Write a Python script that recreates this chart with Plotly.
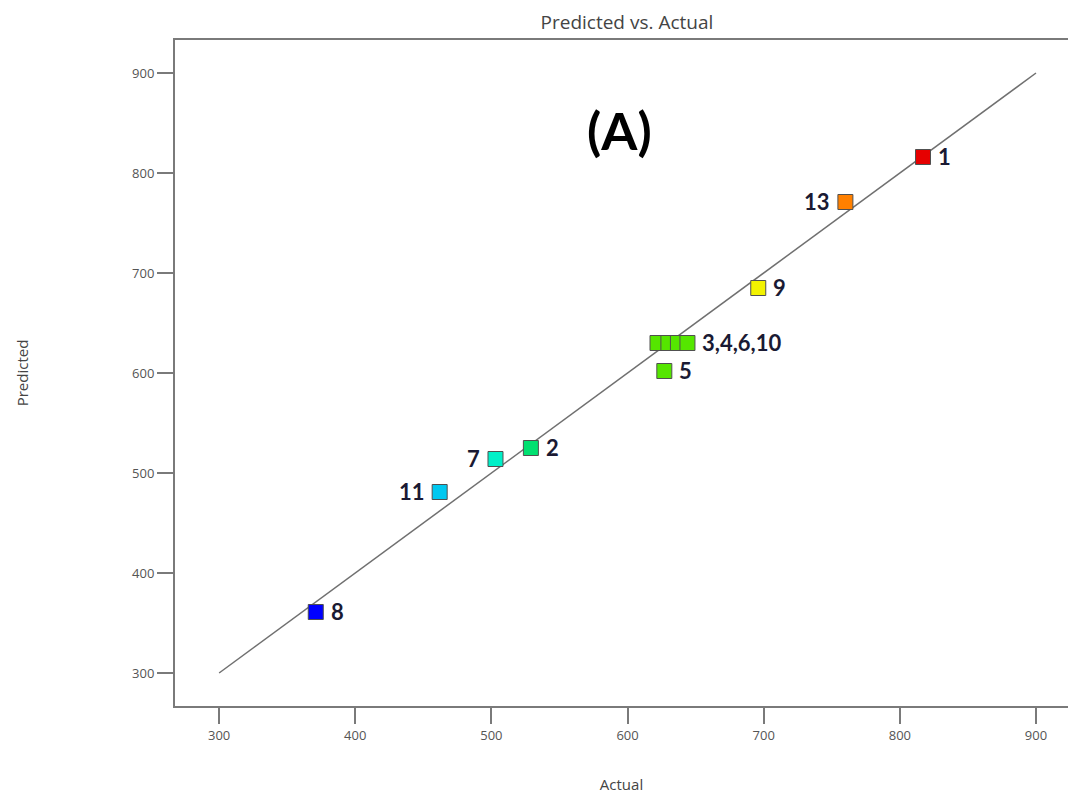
import plotly.graph_objects as go

# Data
run_labels = ["1", "13", "9", "3", "4", "6", "10", "5", "2", "7", "11", "8"]
actual = [817, 760, 696, 622, 630, 637, 644, 627, 529, 503, 462, 371]
predicted = [816, 771, 685, 630, 630, 630, 630, 602, 525, 514, 481, 361]
colors = ["#e60000", "#ff8000", "#f2f200", "#55e600", "#55e600", "#55e600", "#55e600",
          "#55e600", "#00e070", "#00f0c8", "#00c8f0", "#0000ff"]

# Text annotations (label, anchor point index, side)
ann_text = ["1", "13", "9", "3,4,6,10", "5", "2", "7", "11", "8"]
ann_idx = [0, 1, 2, 6, 7, 8, 9, 10, 11]
ann_side = ["right", "left", "right", "right", "right", "right", "left", "left", "right"]

line_x = [300, 900]
line_y = [300, 900]

xticks = [300, 400, 500, 600, 700, 800, 900]
yticks = [300, 400, 500, 600, 700, 800, 900]

fig = go.Figure()
fig.add_trace(go.Scatter(x=line_x, y=line_y, mode="lines",
                         line=dict(color="#707070", width=1.5), hoverinfo="skip",
                         showlegend=False))
fig.add_trace(go.Scatter(x=actual, y=predicted, mode="markers",
                         marker=dict(symbol="square", size=15, color=colors,
                                     line=dict(color="#505050", width=1)),
                         text=run_labels, showlegend=False))

for t, i, s in zip(ann_text, ann_idx, ann_side):
    fig.add_annotation(x=actual[i], y=predicted[i], text=t, showarrow=False,
                       xanchor="left" if s == "right" else "right",
                       xshift=13 if s == "right" else -13, yshift=1,
                       font=dict(family="Lato", size=22, color="#1a1a33", weight="bold"))

fig.add_annotation(xref="paper", yref="paper", x=0.498, y=0.865, text="(A)",
                   showarrow=False, xanchor="center", yanchor="middle",
                   font=dict(family="Lato", size=52, color="#000000", weight="bold"))

axis_common = dict(showgrid=False, zeroline=False, showline=True, linecolor="#7a7a7a",
                   linewidth=2, ticks="outside", ticklen=16, tickwidth=2,
                   tickcolor="#7a7a7a",
                   tickfont=dict(family="Open Sans", size=13, color="#555555"))

fig.update_layout(
    width=1068, height=794,
    margin=dict(l=175, r=0, t=40, b=88),
    paper_bgcolor="white", plot_bgcolor="white",
    title=dict(text="Predicted vs. Actual", x=0.587, xanchor="center", y=0.972,
               yanchor="middle",
               font=dict(family="Open Sans", size=19, color="#444444")),
    xaxis=dict(range=[267.6, 923.5], tickvals=xticks, mirror=True,
               title=dict(text="Actual", standoff=38,
                          font=dict(family="Open Sans", size=15, color="#444444")),
               **axis_common),
    yaxis=dict(range=[267, 933], tickvals=yticks, mirror=False,
               title=dict(text="Predicted", standoff=100,
                          font=dict(family="Open Sans", size=15, color="#444444")),
               **axis_common),
)

fig.write_html("out.html")
